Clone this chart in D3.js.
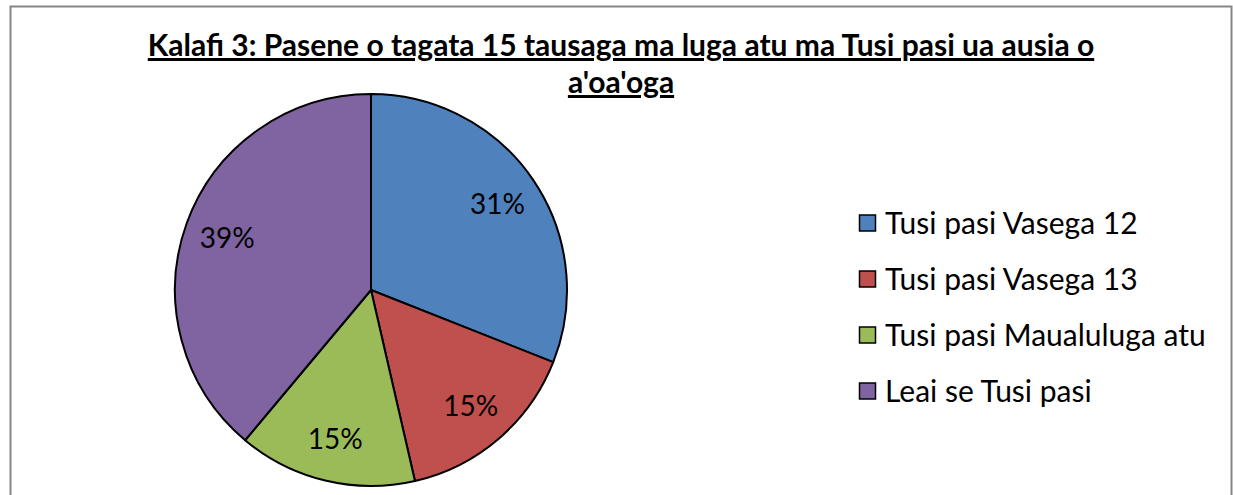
<!DOCTYPE html>
<html><head><meta charset="utf-8">
<script src="https://cdn.jsdelivr.net/npm/d3@7"></script>
<style>body{margin:0;background:#fff}svg{display:block}</style>
</head><body><svg id="c" width="1233" height="495"></svg>
<script>
const categories = ["Tusi pasi Vasega 12", "Tusi pasi Vasega 13", "Tusi pasi Maualuluga atu", "Leai se Tusi pasi"];
const values = [31.0, 15.4, 14.7, 38.9];
const colors = ["#4F81BD", "#C0504D", "#9BBB59", "#8064A2"];
const titleLines = ["Kalafi 3: Pasene o tagata 15 tausaga ma luga atu ma Tusi pasi ua ausia o", "a'oa'oga"];

const svg = d3.select("#c");
const font = "Lato, 'Open Sans', sans-serif";

svg.append("rect").attr("x", 10.5).attr("y", 6.5).attr("width", 1221).attr("height", 500)
  .attr("fill", "#fff").attr("stroke", "#868686").attr("stroke-width", 2);

const title = svg.append("text").attr("text-anchor", "middle")
  .attr("font-family", font).attr("font-weight", "bold").attr("font-size", 30)
  .attr("text-decoration", "underline").attr("fill", "#000");
titleLines.forEach((t, i) => title.append("tspan").attr("x", 621).attr("y", 56 + i * 37).text(t));

const cx = 371, cy = 290, R = 196;
const total = d3.sum(values);
const pie = d3.pie().sort(null).value(d => d)(values);
const arc = d3.arc().innerRadius(0).outerRadius(R);
const labelArc = d3.arc().innerRadius(153).outerRadius(153);
const g = svg.append("g").attr("transform", `translate(${cx},${cy})`);
g.selectAll("path").data(pie).join("path")
  .attr("d", arc).attr("fill", (d, i) => colors[i])
  .attr("stroke", "#000").attr("stroke-width", 2).attr("stroke-linejoin", "round");
g.selectAll("text").data(pie).join("text")
  .attr("transform", d => `translate(${labelArc.centroid(d)})`)
  .attr("text-anchor", "middle").attr("dy", "0.36em")
  .attr("font-family", font).attr("font-size", 28).attr("fill", "#000")
  .text(d => Math.round(d.data / total * 100) + "%");

const lg = svg.append("g").attr("transform", "translate(859,223)");
const rows = lg.selectAll("g").data(categories).join("g")
  .attr("transform", (d, i) => `translate(0,${i * 56})`);
rows.append("rect").attr("x", 0.5).attr("y", -8).attr("width", 16).attr("height", 16)
  .attr("fill", (d, i) => colors[i]).attr("stroke", "#000").attr("stroke-width", 1.5);
rows.append("text").attr("x", 26).attr("dy", "0.36em")
  .attr("font-family", font).attr("font-size", 30).attr("fill", "#000").text(d => d);
</script></body></html>
